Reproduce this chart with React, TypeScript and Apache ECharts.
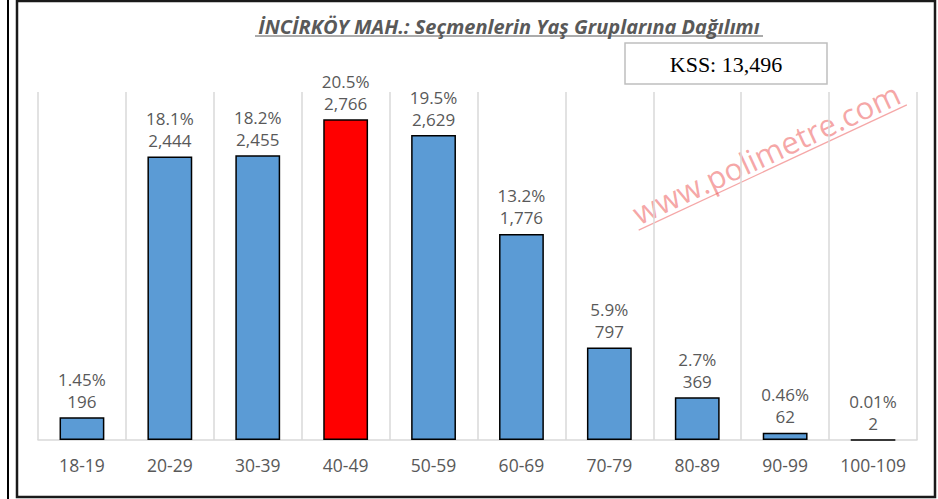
import React, { useEffect, useRef } from "react";
import * as echarts from "echarts";

const categories = ["18-19", "20-29", "30-39", "40-49", "50-59", "60-69", "70-79", "80-89", "90-99", "100-109"];
const values = [196, 2444, 2455, 2766, 2629, 1776, 797, 369, 62, 2];
const percents = ["1.45%", "18.1%", "18.2%", "20.5%", "19.5%", "13.2%", "5.9%", "2.7%", "0.46%", "0.01%"];
const highlightIndex = 3;
const titleText = "İNCİRKÖY MAH.: Seçmenlerin Yaş Gruplarına Dağılımı";
const kssText = "KSS: 13,496";
const watermarkText = "www.polimetre.com";

export default function App() {
  const ref = useRef<HTMLDivElement>(null);
  useEffect(() => {
    const chart = echarts.init(ref.current!, null, { renderer: "svg" });
    const font = "'Open Sans', 'Liberation Sans', sans-serif";
    const rot = (25 * Math.PI) / 180;
    chart.setOption({
      animation: false,
      backgroundColor: "#ffffff",
      grid: { left: 38, right: 21, top: 92, bottom: 59 },
      xAxis: {
        type: "category",
        data: categories,
        axisTick: { show: false },
        axisLine: { lineStyle: { color: "#d9d9d9", width: 1.5 } },
        splitLine: { show: true, lineStyle: { color: "#d9d9d9", width: 1.5 } },
        axisLabel: { color: "#595959", fontSize: 17.5, fontFamily: font, margin: 16 },
      },
      yAxis: {
        type: "value",
        min: 0,
        max: 3000,
        show: false,
        splitLine: { show: false },
      },
      series: [
        {
          type: "bar",
          data: values.map((v, i) => ({
            value: v,
            itemStyle: { color: i === highlightIndex ? "#ff0000" : "#5b9bd5" },
          })),
          barCategoryGap: "49%",
          itemStyle: { borderColor: "#000000", borderWidth: 1.5 },
          label: {
            show: true,
            position: "top",
            distance: 5,
            color: "#595959",
            fontSize: 17,
            fontFamily: font,
            lineHeight: 22,
            formatter: (p: any) => percents[p.dataIndex] + "\n" + values[p.dataIndex].toLocaleString("en-US"),
          },
        },
      ],
      graphic: [
        { type: "line", shape: { x1: 8, y1: 0, x2: 8, y2: 499 }, style: { stroke: "#000000", lineWidth: 2 } },
        {
          type: "rect",
          shape: { x: 17, y: 1, width: 918, height: 496 },
          style: { fill: "none", stroke: "#1a1a1a", lineWidth: 2.5 },
        },
        {
          type: "text",
          x: 509,
          y: 26,
          style: {
            text: titleText,
            fill: "#595959",
            font: `italic bold 20px ${font}`,
            align: "center",
            verticalAlign: "middle",
          },
        },
        { type: "line", shape: { x1: 255, y1: 36, x2: 763, y2: 36 }, style: { stroke: "#595959", lineWidth: 1.2 } },
        {
          type: "rect",
          shape: { x: 625, y: 43, width: 202, height: 41 },
          style: { fill: "#ffffff", stroke: "#bfbfbf", lineWidth: 1.5 },
        },
        {
          type: "text",
          x: 726,
          y: 64,
          style: {
            text: kssText,
            fill: "#000000",
            font: "22px 'Liberation Serif', serif",
            align: "center",
            verticalAlign: "middle",
          },
        },
        {
          type: "group",
          x: 766,
          y: 153,
          rotation: rot,
          children: [
            {
              type: "text",
              x: 0,
              y: 0,
              style: {
                text: watermarkText,
                fill: "rgba(236, 80, 80, 0.5)",
                font: `31px ${font}`,
                align: "center",
                verticalAlign: "middle",
              },
            },
            {
              type: "line",
              shape: { x1: -148, y1: 16, x2: 148, y2: 16 },
              style: { stroke: "rgba(236, 80, 80, 0.5)", lineWidth: 1.2 },
            },
          ],
        },
      ],
    });
    return () => chart.dispose();
  }, []);
  return <div ref={ref} style={{ position: "absolute", left: 0, top: 0, width: 938, height: 499 }} />;
}
